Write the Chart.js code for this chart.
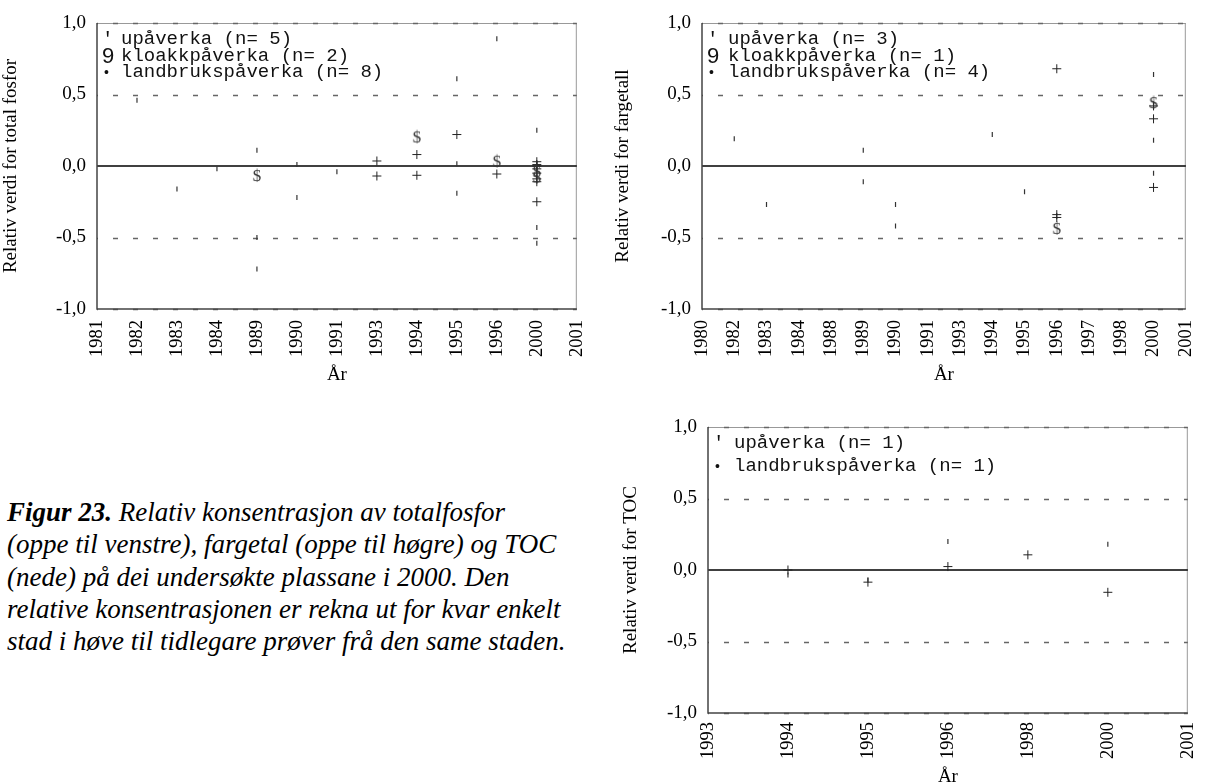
<!DOCTYPE html>
<html>
<head>
<meta charset="utf-8">
<script src="https://cdn.jsdelivr.net/npm/chart.js@4.4.1/dist/chart.umd.min.js"></script>
<style>
  body { margin: 0; width: 1219px; height: 784px; overflow: hidden; background: #fff; position: relative; }
  canvas { position: absolute; }
  #caption {
    position: absolute; left: 7px; top: 496px; white-space: nowrap;
    font-family: "Liberation Serif", serif; font-style: italic; font-size: 27px; line-height: 32.3px; color: #000;
  }
</style>
</head>
<body>
<canvas id="fosfor" style="left:0px;top:0px"></canvas>
<canvas id="farge" style="left:610px;top:0px"></canvas>
<canvas id="toc" style="left:610px;top:400px"></canvas>
<div id="caption"><b>Figur 23.</b> Relativ konsentrasjon av totalfosfor<br>(oppe til venstre), fargetal (oppe til høgre) og TOC<br>(nede) på dei undersøkte plassane i 2000. Den<br>relative konsentrasjonen er rekna ut for kvar enkelt<br>stad i høve til tidlegare prøver frå den same staden.</div>
<script>
// y-axis ticks shared by all three panels
const yTicks = [-1, -0.5, 0, 0.5, 1];

// total fosfor (upper left)
const fosforYears = ['1981', '1982', '1983', '1984', '1989', '1990', '1991', '1993', '1994', '1995', '1996', '2000', '2001'];
const fosforUpaverka = [['1982', 0.46], ['1983', -0.16], ['1984', -0.02], ['1989', 0.11], ['1989', -0.50], ['1989', -0.72],
  ['1990', 0.01], ['1990', -0.22], ['1991', -0.04], ['1995', 0.61], ['1995', 0.015], ['1995', -0.19], ['1996', 0.89],
  ['2000', 0.25], ['2000', 0.02], ['2000', -0.01], ['2000', -0.43], ['2000', -0.54]];
const fosforKloakk = [['1989', -0.07], ['1994', 0.20], ['1996', 0.03], ['2000', -0.04], ['2000', -0.08]];
const fosforLandbruk = [['1993', 0.035], ['1993', -0.07], ['1994', 0.08], ['1994', -0.065], ['1995', 0.22], ['1996', -0.056],
  ['2000', 0.03], ['2000', 0.01], ['2000', 0.0], ['2000', -0.02], ['2000', -0.05], ['2000', -0.09], ['2000', -0.11], ['2000', -0.25]];

// fargetall (upper right)
const fargeYears = ['1980', '1982', '1983', '1984', '1988', '1989', '1990', '1991', '1993', '1994', '1995', '1996', '1997', '1998', '2000', '2001'];
const fargeUpaverka = [['1982', 0.19], ['1983', -0.27], ['1989', 0.11], ['1989', -0.11], ['1990', -0.27], ['1990', -0.42],
  ['1994', 0.22], ['1995', -0.18], ['2000', 0.64], ['2000', 0.18], ['2000', -0.05]];
const fargeKloakk = [['1996', -0.44], ['2000', 0.44]];
const fargeLandbruk = [['1996', 0.68], ['1996', -0.34], ['1996', -0.36], ['2000', 0.42], ['2000', 0.33], ['2000', -0.15]];

// TOC (lower right)
const tocYears = ['1993', '1994', '1995', '1996', '1998', '2000', '2001'];
const tocUpaverka = [['1994', -0.035], ['1995', -0.07], ['1996', 0.20], ['2000', 0.18]];
const tocLandbruk = [['1994', 0.0], ['1995', -0.085], ['1996', 0.024], ['1998', 0.106], ['2000', -0.156]];

Chart.defaults.font.family = '"Liberation Serif", "Times New Roman", serif';
Chart.defaults.color = '#000';

// "$" marker used for kloakkpåverka
const dollar = document.createElement('canvas');
dollar.width = 12; dollar.height = 18;
(function () {
  const c = dollar.getContext('2d');
  c.fillStyle = '#333';
  c.font = '17px "Liberation Serif"';
  c.textAlign = 'center';
  c.textBaseline = 'middle';
  c.fillText('$', 6, 10);
})();

function toPoints(years, pairs) {
  return pairs.map(p => ({x: years.indexOf(p[0]), y: p[1]}));
}

const framePlugin = {
  id: 'frame',
  beforeDatasetsDraw(chart) {
    const {ctx, chartArea: a, scales: {y}} = chart;
    ctx.save();
    ctx.strokeStyle = '#999';
    ctx.lineWidth = 1;
    ctx.beginPath();
    ctx.moveTo(a.left, a.top + 0.5); ctx.lineTo(a.right, a.top + 0.5);
    ctx.moveTo(a.right - 0.5, a.top); ctx.lineTo(a.right - 0.5, a.bottom);
    ctx.stroke();
    ctx.strokeStyle = '#666';
    ctx.lineWidth = 1.5;
    ctx.setLineDash([5, 15]);
    ctx.lineDashOffset = -16;
    yTicks.forEach(v => {
      if (v === 0) return;
      const py = Math.round(y.getPixelForValue(v)) + 0.5;
      ctx.beginPath(); ctx.moveTo(a.left, py); ctx.lineTo(a.right, py); ctx.stroke();
    });
    ctx.setLineDash([]);
    ctx.strokeStyle = '#000';
    ctx.lineWidth = 1.5;
    const zy = Math.round(y.getPixelForValue(0));
    ctx.beginPath(); ctx.moveTo(a.left, zy); ctx.lineTo(a.right, zy); ctx.stroke();
    ctx.strokeStyle = '#444';
    ctx.beginPath();
    ctx.moveTo(a.left, a.top); ctx.lineTo(a.left, a.bottom); ctx.lineTo(a.right, a.bottom);
    ctx.stroke();
    ctx.restore();
  },
  afterDraw(chart, args, opts) {
    const {ctx, chartArea: a} = chart;
    ctx.save();
    ctx.fillStyle = '#111';
    ctx.textBaseline = 'middle';
    opts.lines.forEach((ln, i) => {
      const ly = a.top + opts.y[i];
      if (ln[0] === '9') {
        ctx.font = '22px "Liberation Sans"';
        ctx.fillText('9', a.left + 5, ly + 1);
      } else if (ln[0] === '•') {
        ctx.font = '14px "Liberation Sans"';
        ctx.fillText('•', a.left + 7, ly + 1);
      } else {
        ctx.font = '19px "Liberation Mono"';
        ctx.fillText("'", a.left + 5, ly);
      }
      ctx.font = '19px "Liberation Mono"';
      ctx.fillText(ln[1], a.left + opts.textX, ly);
    });
    ctx.restore();
  }
};

function makeChart(id, w, h, years, sets, yTitle, box, legend) {
  const el = document.getElementById(id);
  el.width = w; el.height = h;
  el.style.width = w + 'px'; el.style.height = h + 'px';
  const datasets = [];
  if (sets.up) datasets.push({data: toPoints(years, sets.up), pointStyle: 'line', rotation: 90, radius: 2.5,
    borderColor: '#333', borderWidth: 1.2});
  if (sets.kloakk) datasets.push({data: toPoints(years, sets.kloakk), pointStyle: dollar, radius: 6});
  if (sets.land) datasets.push({data: toPoints(years, sets.land), pointStyle: 'cross', radius: 4.5,
    borderColor: '#222', borderWidth: 1});
  return new Chart(el, {
    type: 'scatter',
    data: {datasets: datasets},
    options: {
      responsive: false,
      animation: false,
      events: [],
      layout: {padding: {top: box.top, right: box.right, left: 0, bottom: 0}},
      plugins: {
        legend: {display: false},
        tooltip: {enabled: false},
        frame: legend
      },
      scales: {
        x: {
          type: 'linear', min: 0, max: years.length - 1,
          grid: {display: false, drawTicks: false},
          border: {display: false},
          afterFit: s => { s.height = box.xh; },
          ticks: {
            stepSize: 1, autoSkip: false, minRotation: 90, maxRotation: 90, padding: box.tickPad,
            font: {size: 18.5}, color: '#000',
            callback: v => years[v]
          },
          title: {display: true, text: 'År', font: {size: 19}, padding: {top: 0, bottom: box.titleB}}
        },
        y: {
          min: -1, max: 1,
          grid: {display: false, drawTicks: false},
          border: {display: false},
          afterFit: s => { s.width = box.yw; },
          afterBuildTicks: s => { s.ticks = yTicks.map(v => ({value: v})); },
          ticks: {
            padding: 11, font: {size: 19}, color: '#000',
            callback: v => v.toFixed(1).replace('.', ',')
          },
          title: {display: true, text: yTitle, font: {size: 19}, padding: {top: box.titleL, bottom: 0}}
        }
      }
    },
    plugins: [framePlugin]
  });
}

window.addEventListener('load', function () {
  makeChart('fosfor', 610, 392, fosforYears,
    {up: fosforUpaverka, kloakk: fosforKloakk, land: fosforLandbruk},
    'Relativ verdi for total fosfor',
    {top: 23, right: 10, yw: 97, xh: 83, tickPad: 11, titleB: 6, titleL: 0},
    {lines: [["'", 'upåverka (n= 5)'], ['9', 'kloakkpåverka (n= 2)'], ['•', 'landbrukspåverka (n= 8)']],
      y: [16, 33, 49], textX: 24});

  makeChart('farge', 609, 392, fargeYears,
    {up: fargeUpaverka, kloakk: fargeKloakk, land: fargeLandbruk},
    'Relativ verdi for fargetall',
    {top: 23, right: 15, yw: 92, xh: 83, tickPad: 11, titleB: 6, titleL: 2},
    {lines: [["'", 'upåverka (n= 3)'], ['9', 'kloakkpåverka (n= 1)'], ['•', 'landbrukspåverka (n= 4)']],
      y: [16, 33, 49], textX: 26});

  makeChart('toc', 609, 390, tocYears,
    {up: tocUpaverka, land: tocLandbruk},
    'Relativ verdi for TOC',
    {top: 27, right: 11, yw: 98, xh: 77, tickPad: 9, titleB: 2, titleL: 10},
    {lines: [["'", 'upåverka (n= 1)'], ['•', 'landbrukspåverka (n= 1)']],
      y: [16, 39], textX: 26});
});
</script>
</body>
</html>
